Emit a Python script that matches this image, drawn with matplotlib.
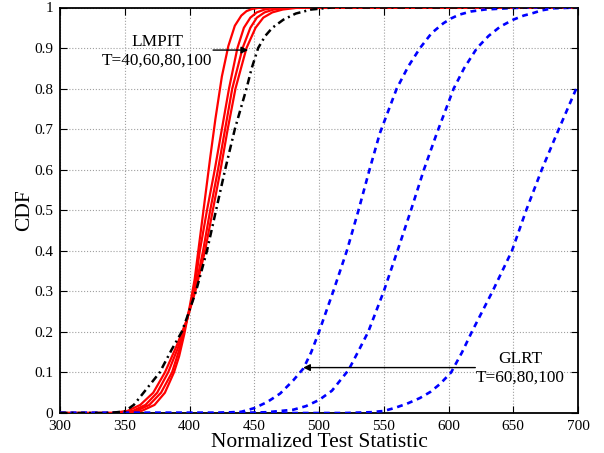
import matplotlib
matplotlib.use("Agg")
import matplotlib.pyplot as plt

plt.rcParams['font.family'] = ['Liberation Serif', 'DejaVu Serif']
plt.rcParams['mathtext.fontset'] = 'stix'

# LMPIT curves (red, solid)
x_lmpit_1 = [300, 350, 363, 373, 381, 388, 392, 396, 400, 404, 408, 412, 416, 420, 425, 430, 435, 440, 444, 448, 453, 460, 700]
cdf_lmpit_1 = [0, 0.0, 0.005, 0.02, 0.05, 0.1, 0.14, 0.195, 0.26, 0.33, 0.43, 0.53, 0.63, 0.725, 0.83, 0.905, 0.955, 0.98, 0.991, 0.996, 0.999, 1.0, 1.0]

x_lmpit_2 = [300, 345, 359, 369, 378, 386.5, 392, 398, 403.5, 408, 413.5, 419.5, 425, 430.5, 437, 442, 447, 452, 458, 467, 700]
cdf_lmpit_2 = [0, 0.0, 0.005, 0.02, 0.05, 0.1, 0.155, 0.23, 0.3, 0.4, 0.5, 0.6, 0.7, 0.8, 0.9, 0.95, 0.975, 0.988, 0.995, 1.0, 1.0]

x_lmpit_3 = [300, 342, 356, 366, 375, 383.5, 391, 398, 404, 410.5, 416, 422, 427.5, 433, 441, 447, 452, 458, 465, 477, 700]
cdf_lmpit_3 = [0, 0.0, 0.005, 0.02, 0.05, 0.1, 0.16, 0.23, 0.3, 0.4, 0.5, 0.6, 0.7, 0.8, 0.9, 0.95, 0.975, 0.988, 0.995, 1.0, 1.0]

x_lmpit_4 = [300, 340, 352, 362, 372, 381, 390, 398, 404.5, 412, 418, 424, 429.5, 435.5, 444, 451, 457, 464, 472, 485, 700]
cdf_lmpit_4 = [0, 0.0, 0.005, 0.02, 0.05, 0.1, 0.165, 0.23, 0.3, 0.4, 0.5, 0.6, 0.7, 0.8, 0.9, 0.95, 0.975, 0.988, 0.995, 1.0, 1.0]

# Reference curve (black, dash-dot)
x_ref = [300, 338, 350, 357, 364, 377, 386, 394, 398, 405, 413.5, 420.5, 427.5, 435, 444, 448, 453, 458.5, 464, 472.5, 482, 494, 510, 700]
cdf_ref = [0, 0.0, 0.004, 0.02, 0.048, 0.1, 0.155, 0.2, 0.235, 0.3, 0.4, 0.5, 0.6, 0.7, 0.8, 0.85, 0.9, 0.93, 0.95, 0.97, 0.985, 0.995, 1.0, 1.0]

# GLRT curves (blue, dashed)
x_glrt_1 = [300, 420, 440, 450, 460, 470, 480, 488, 494, 500, 511, 521.5, 530.5, 539, 547, 560, 569, 578, 587, 596, 602, 608, 617, 628, 645, 660, 700]
cdf_glrt_1 = [0, 0.0, 0.003, 0.012, 0.027, 0.048, 0.08, 0.11, 0.15, 0.2, 0.3, 0.4, 0.5, 0.6, 0.69, 0.8, 0.855, 0.9, 0.937, 0.961, 0.973, 0.982, 0.99, 0.995, 0.998, 1.0, 1.0]

x_glrt_2 = [300, 440, 460, 480, 490, 500, 510, 522.8, 530, 538, 550, 560.6, 571, 581, 591, 604, 612, 622, 631, 640, 650, 658, 665, 672, 681, 700]
cdf_glrt_2 = [0, 0.0, 0.002, 0.008, 0.017, 0.032, 0.055, 0.106, 0.15, 0.2, 0.3, 0.4, 0.5, 0.6, 0.69, 0.8, 0.85, 0.9, 0.93, 0.953, 0.97, 0.98, 0.986, 0.993, 0.998, 1.0]

x_glrt_3 = [300, 520, 540, 550, 558, 568, 578, 586, 593.6, 602, 610.5, 618, 634, 649, 660, 672, 682.5, 700]
cdf_glrt_3 = [0, 0.0, 0.002, 0.005, 0.012, 0.023, 0.037, 0.052, 0.072, 0.1, 0.15, 0.2, 0.3, 0.4, 0.5, 0.6, 0.68, 0.81]

x_ticks = [300, 350, 400, 450, 500, 550, 600, 650, 700]
y_ticks = [0, 0.1, 0.2, 0.3, 0.4, 0.5, 0.6, 0.7, 0.8, 0.9, 1]
y_tick_labels = ['0', '0.1', '0.2', '0.3', '0.4', '0.5', '0.6', '0.7', '0.8', '0.9', '1']

fig = plt.figure(figsize=(6.04, 4.53), dpi=100)
ax = fig.add_axes([60/604, 40/453, 518/604, 405.5/453])

red_kw = dict(color='#ff0000', lw=1.6, linestyle='-')
for xs, ys in [(x_lmpit_1, cdf_lmpit_1), (x_lmpit_2, cdf_lmpit_2),
               (x_lmpit_3, cdf_lmpit_3), (x_lmpit_4, cdf_lmpit_4)]:
    ax.plot(xs, ys, **red_kw, zorder=3)

ax.plot(x_ref, cdf_ref, color='black', lw=1.8, linestyle=(0, (3, 1.6, 0.8, 1.6)), zorder=4)

blue_kw = dict(color='#0000ff', lw=1.9, linestyle=(0, (2.2, 1.8)))
for xs, ys in [(x_glrt_1, cdf_glrt_1), (x_glrt_2, cdf_glrt_2), (x_glrt_3, cdf_glrt_3)]:
    ax.plot(xs, ys, **blue_kw, zorder=3)

ax.set_xlim(300, 700)
ax.set_ylim(0, 1)
ax.set_xticks(x_ticks)
ax.set_xticklabels([str(t) for t in x_ticks])
ax.set_yticks(y_ticks)
ax.set_yticklabels(y_tick_labels)
ax.tick_params(direction='in', top=True, right=True, labelsize=11, length=5, width=0.8)
ax.tick_params(axis='x', pad=5)
ax.tick_params(axis='y', pad=5)
ax.grid(True, linestyle=':', color='#a0a0a0', lw=0.8)
for sp in ax.spines.values():
    sp.set_linewidth(1.3)

ax.set_xlabel('Normalized Test Statistic', fontsize=15.5, labelpad=0)
ax.set_ylabel('CDF', fontsize=15.5, labelpad=0)

ax.annotate('', xy=(445.3, 0.895), xytext=(418.2, 0.895),
            arrowprops=dict(arrowstyle='-|>', color='black', lw=1.0,
                            mutation_scale=10, shrinkA=0, shrinkB=0), zorder=6)
ax.text(375, 0.892, 'LMPIT\nT=40,60,80,100', ha='center', va='center', fontsize=12.4,
        linespacing=1.15, zorder=6)

ax.annotate('', xy=(487.8, 0.112), xytext=(620.7, 0.112),
            arrowprops=dict(arrowstyle='-|>', color='black', lw=1.0,
                            mutation_scale=10, shrinkA=0, shrinkB=0), zorder=6)
ax.text(655.5, 0.11, 'GLRT\nT=60,80,100', ha='center', va='center', fontsize=12.4,
        linespacing=1.15, zorder=6)

fig.savefig('out.png', dpi=100)
